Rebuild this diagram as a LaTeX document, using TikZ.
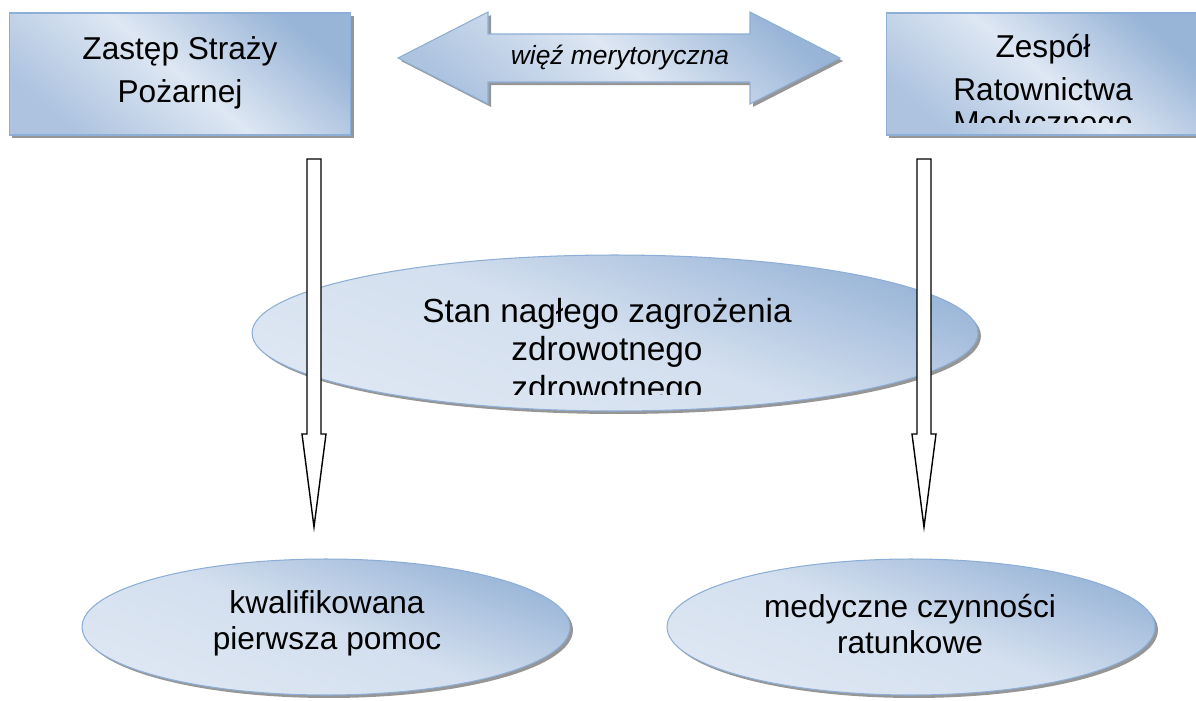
\documentclass[tikz,border=0pt]{standalone}
\usepackage{fontspec}
\setmainfont{Liberation Sans}
\usetikzlibrary{shapes.geometric,shadows}
\definecolor{paleblue}{RGB}{222,231,243}
\definecolor{midblue}{RGB}{152,180,215}
\definecolor{edgeblue}{RGB}{141,174,214}
\definecolor{shadowgray}{RGB}{150,150,150}

\begin{document}
\begin{tikzpicture}[x=0.02cm,y=-0.02cm,
	tint/.style={top color=midblue, bottom color=midblue!70!paleblue, middle color=paleblue, shading angle=-40},
	ovaltint/.style={top color=midblue, bottom color=paleblue, middle color=paleblue!85!midblue, shading angle=-20},
	shadowed/.style={drop shadow={shadow xshift=0.06cm, shadow yshift=-0.06cm, fill=shadowgray, opacity=1}},
	box/.style={rectangle, draw=edgeblue, line width=0.6pt, tint, shadowed, minimum width=6.84cm, minimum height=2.44cm},
	oval/.style={ellipse, draw=edgeblue, line width=0.6pt, ovaltint, shadowed},
	boxtext/.style={align=center, font=\fontsize{18}{24.5}\selectfont},
	blockarrow/.style={draw=black, line width=0.8pt, fill=white, line join=miter}]
\useasboundingbox (0,0) rectangle (1196,700);

% upper boxes
\node [box] (fire) at (180,74) {};
\node [box, minimum width=6.28cm] (med) at (1043,74) {};
\node [boxtext] (firetext) at (180,73) {Zastęp Straży\\Pożarnej};
\begin{scope}
	\clip (886,13) rectangle (1200,122);
	\node [boxtext] (medtext) at (1043,87) {Zespół\\Ratownictwa\\[-6pt]Medycznego};
\end{scope}

% double arrow between the boxes
\coordinate (linkc) at (619,58);
\path (linkc) ++(3,3) coordinate (linksh);
\fill [shadowgray] (linksh) +(-221,0) -- +(-131,-46) -- +(-131,-24) -- +(131,-24) -- +(131,-46)
	-- +(221,0) -- +(131,46) -- +(131,24) -- +(-131,24) -- +(-131,46) -- cycle;
\draw [draw=edgeblue, line width=0.6pt, tint] (linkc) +(-221,0) -- +(-131,-46) -- +(-131,-24) -- +(131,-24) -- +(131,-46)
	-- +(221,0) -- +(131,46) -- +(131,24) -- +(-131,24) -- +(-131,46) -- cycle;
\node [font=\fontsize{15}{18}\selectfont\itshape] (linktext) at (620,58) {więź merytoryczna};

% central ellipse
\node [oval, minimum width=14.52cm, minimum height=3.12cm] (state) at (615,333) {};
\begin{scope}
	\clip (250,250) rectangle (985,394);
	\node [boxtext, font=\fontsize{19}{21.9}\selectfont] (statetext) at (607,352) {Stan nagłego zagrożenia\\zdrowotnego\\zdrowotnego};
\end{scope}

% vertical arrows
\coordinate (fireout) at (314,159);
\coordinate (medout) at (924,159);
\draw [blockarrow] (fireout) +(-7,0) -- +(-7,275) -- +(-12,275) -- +(0,368) -- +(12,275) -- +(7,275) -- +(7,0) -- cycle;
\draw [blockarrow] (medout) +(-7,0) -- +(-7,275) -- +(-12,275) -- +(0,368) -- +(12,275) -- +(7,275) -- +(7,0) -- cycle;

% lower ellipses
\node [oval, minimum width=9.76cm, minimum height=2.72cm] (aid) at (326,627) {};
\node [oval, minimum width=9.76cm, minimum height=2.72cm] (rescue) at (911,627) {};
\node [boxtext, font=\fontsize{18}{20.5}\selectfont] (aidtext) at (327,623) {kwalifikowana\\pierwsza pomoc};
\node [boxtext, font=\fontsize{18}{21}\selectfont] (rescuetext) at (910,624) {medyczne czynności\\ratunkowe};
\end{tikzpicture}
\end{document}
